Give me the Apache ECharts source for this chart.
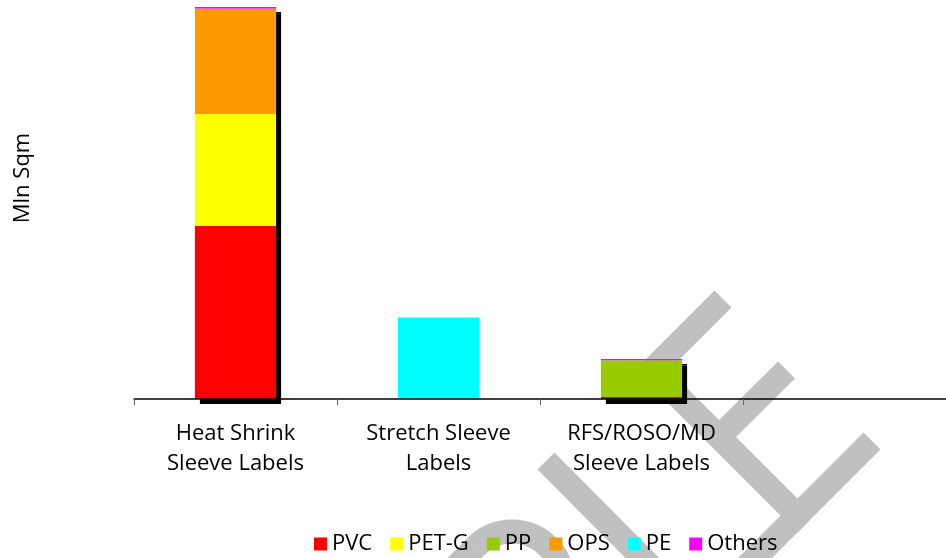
<!DOCTYPE html>
<html>
<head>
<meta charset="utf-8">
<script src="https://cdn.jsdelivr.net/npm/echarts@6/dist/echarts.min.js"></script>
<style>
  html, body { margin: 0; padding: 0; background: #fff; }
  #chart { width: 946px; height: 558px; }
</style>
</head>
<body>
<div id="chart"></div>
<script>
// Sleeve label consumption by film type (Mln Sqm)
const categories = ['Heat Shrink\nSleeve Labels', 'Stretch Sleeve\nLabels', 'RFS/ROSO/MD\nSleeve Labels', ''];
const seriesNames = ['PVC', 'PET-G', 'PP', 'OPS', 'PE', 'Others'];
const pvc    = [867, null, 10, null];
const petg   = [561, null, null, null];
const pp     = [null, null, 183, null];
const ops    = [528, null, null, null];
const pe     = [null, 408, null, null];
const others = [9, null, 8, null];

const values = [pvc, petg, pp, ops, pe, others];
const colors = ['#ff0000', '#ffff00', '#99cc00', '#ff9900', '#00ffff', '#ff00ff'];
const FONT = '"Open Sans", "Noto Sans", sans-serif';

const chart = echarts.init(document.getElementById('chart'), null, { renderer: 'canvas' });

// Lower segments sit above the upper ones so each drop shadow only shows on the outside
const series = seriesNames.map((name, i) => ({
  name: name,
  type: 'bar',
  stack: 'total',
  barWidth: '40%',
  z: 8 - i,
  data: values[i],
  itemStyle: name === 'PE'
    ? { color: colors[i] }
    : { color: colors[i], shadowColor: '#000', shadowOffsetX: 5, shadowOffsetY: 5, shadowBlur: 0 },
  emphasis: { disabled: true }
}));

// Light grey "SAMPLE" stamp drawn as thick strokes behind the plot
const stamp = { stroke: '#c0c0c0', lineWidth: 24, fill: null, lineJoin: 'miter', lineCap: 'butt' };
const graphic = [
  { type: 'polyline', z: 0, silent: true, shape: { points: [[723, 299], [652, 370], [797.5, 515.5], [872, 441]] }, style: stamp },
  { type: 'line', z: 0, silent: true, shape: { x1: 719, y1: 437, x2: 786.5, y2: 370 }, style: stamp },
  { type: 'polyline', z: 0, silent: true, shape: { points: [[546, 461], [698.5, 614.5], [800, 513]] }, style: stamp },
  { type: 'arc', z: 0, silent: true, shape: { cx: 512, cy: 582.6, r: 51, startAngle: -Math.PI * 3 / 4, endAngle: Math.PI / 4, clockwise: true }, style: stamp },
  { type: 'line', z: 0, silent: true, shape: { x1: 476, y1: 546.6, x2: 400, y2: 622.6 }, style: stamp },
  {
    type: 'text', z: 10, silent: true, x: 23, y: 178, rotation: Math.PI / 2,
    style: { text: 'Mln Sqm', font: '22px ' + FONT, fill: '#000', align: 'center', verticalAlign: 'middle' }
  }
];

chart.setOption({
  animation: false,
  backgroundColor: '#fff',
  grid: { left: 134, right: -2, top: 0, bottom: 159, containLabel: false },
  legend: {
    data: seriesNames,
    left: 309,
    top: 528,
    itemWidth: 13,
    itemHeight: 13,
    itemGap: 18,
    icon: 'rect',
    selectedMode: false,
    textStyle: { fontFamily: FONT, fontSize: 22, color: '#000', lineHeight: 22 }
  },
  xAxis: {
    type: 'category',
    data: categories,
    z: 10,
    boundaryGap: true,
    axisLine: { show: true, lineStyle: { color: '#000', width: 1.5 } },
    axisTick: { show: true, length: 6, lineStyle: { color: '#666', width: 1 } },
    axisLabel: { interval: 0, margin: 20, fontFamily: FONT, fontSize: 22, lineHeight: 30, color: '#000', align: 'center' }
  },
  yAxis: {
    type: 'value',
    min: 0,
    max: 2000,
    axisLine: { show: false },
    axisTick: { show: false },
    axisLabel: { show: false },
    splitLine: { show: false }
  },
  graphic: graphic,
  series: series
});
</script>
</body>
</html>
